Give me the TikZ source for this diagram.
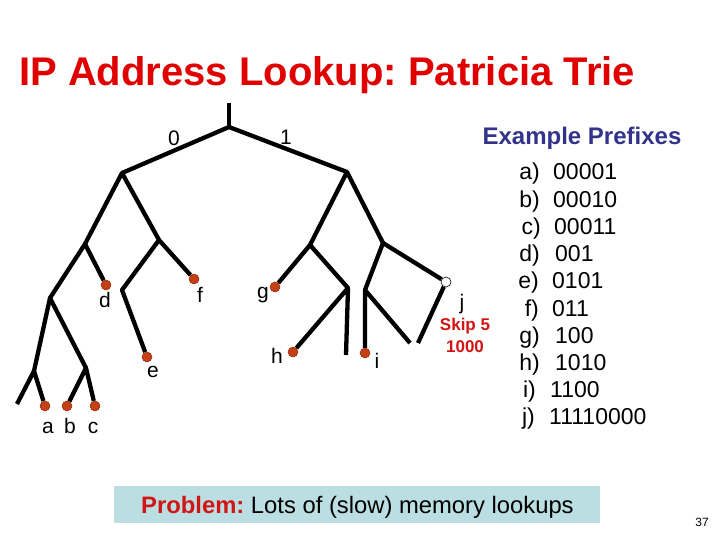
\documentclass[tikz,border=0pt]{standalone}
\usepackage{fontspec}
\setmainfont{Liberation Sans}
\frenchspacing
\definecolor{titlered}{RGB}{224,0,0}
\definecolor{dotred}{RGB}{198,64,22}
\definecolor{prefblue}{RGB}{51,51,140}
\definecolor{boxblue}{RGB}{186,222,226}
\definecolor{skipred}{RGB}{210,20,20}
\begin{document}
\begin{tikzpicture}[x=1pt,y=-1pt,
  edge/.style={line width=4.3pt, line join=round},
  dot/.style={circle, fill=dotred, draw=dotred!70!black, line width=0.5pt, inner sep=0pt, minimum size=10pt},
  opendot/.style={circle, fill=white, draw=black, line width=0.6pt, inner sep=0pt, minimum size=10pt},
  lbl/.style={inner sep=0pt, anchor=base, font=\fontsize{21}{24}\selectfont},
  bitlbl/.style={inner sep=0pt, anchor=base, font=\fontsize{21}{24}\selectfont},
  pkey/.style={inner sep=0pt, anchor=base east, font=\fontsize{23}{26}\selectfont},
  pval/.style={inner sep=0pt, anchor=base west, font=\fontsize{23}{26}\selectfont}]
\useasboundingbox (0,0) rectangle (720,540);

% title
\node[inner sep=0pt, anchor=base west, text=titlered, font=\fontsize{40}{44}\selectfont\bfseries] (title) at (19,86) {IP Address Lookup: Patricia Trie};

% trie junctions
\coordinate (top) at (229,103);
\coordinate (r) at (229,127);
\coordinate (n0) at (122,173);
\coordinate (n1) at (347,172);
\coordinate (n00) at (85,244);
\coordinate (n01) at (159,240);
\coordinate (n000) at (50,298);
\coordinate (n0000) at (34,371);
\coordinate (n0001) at (86,368);
\coordinate (n010) at (122,290);
\coordinate (n10) at (310,245);
\coordinate (n11) at (383,243);
\coordinate (n101) at (348,288);
\coordinate (n110) at (365,290);
\coordinate (end1) at (17,404);
\coordinate (end2) at (346,355);
\coordinate (end3) at (410,343);
\coordinate (end4) at (418,343);

% leaves
\node[dot] (a) at (45,406) {};
\node[dot] (b) at (67,406) {};
\node[dot] (c) at (95,406) {};
\node[dot] (d) at (106,285) {};
\node[dot] (e) at (147,357) {};
\node[dot] (f) at (194,279) {};
\node[dot] (g) at (275,287) {};
\node[dot] (h) at (293,352) {};
\node[dot] (i) at (365,353) {};
\node[opendot] (j) at (446,282) {};

% edges
\draw[edge] (top) -- (r);
\draw[edge] (n0) -- (r) -- (n1);
\draw[edge] (n00) -- (n0) -- (n01);
\draw[edge] (n000) -- (n00) -- (d);
\draw[edge] (n0000) -- (n000) -- (n0001);
\draw[edge] (end1) -- (n0000) -- (a);
\draw[edge] (b) -- (n0001) -- (c);
\draw[edge] (e) -- (n010) -- (n01) -- (f);
\draw[edge] (n10) -- (n1) -- (n11);
\draw[edge] (g) -- (n10) -- (n101);
\draw[edge] (h) -- (n101) -- (end2);
\draw[edge] (n110) -- (n11) -- (j);
\draw[edge] (i) -- (n110) -- (end3);
\draw[edge] (j) -- (end4);

% bit labels
\node[bitlbl] (l0) at (174,146) {0};
\node[bitlbl] (l1) at (286,145) {1};

% leaf labels
\node[lbl] (la) at (48,433) {a};
\node[lbl] (lb) at (70,433) {b};
\node[lbl] (lc) at (93,433) {c};
\node[lbl] (ld) at (105,307) {d};
\node[lbl] (le) at (153,377) {e};
\node[lbl] (lf) at (200,302) {f};
\node[lbl] (lg) at (263,298) {g};
\node[lbl] (lh) at (277,363) {h};
\node[lbl] (li) at (377,368) {i};
\node[lbl] (lj) at (462,309) {j};
\node[inner sep=0pt, anchor=base, text=skipred, font=\fontsize{17}{20}\selectfont\bfseries] (skip) at (465,330) {Skip 5};
\node[inner sep=0pt, anchor=base, text=skipred, font=\fontsize{17}{20}\selectfont\bfseries] (skipv) at (465,352) {1000};

% prefixes
\node[inner sep=0pt, anchor=base, text=prefblue, font=\fontsize{24}{28}\selectfont\bfseries] (ptitle) at (582,145) {Example Prefixes};
\node[pkey] (ka) at (540,180) {a)};   \node[pval] (va) at (553,180) {00001};
\node[pkey] (kb) at (540,207.2) {b)}; \node[pval] (vb) at (553,207.2) {00010};
\node[pkey] (kc) at (541,234.4) {c)}; \node[pval] (vc) at (554,234.4) {00011};
\node[pkey] (kd) at (540,261.6) {d)}; \node[pval] (vd) at (555,261.6) {001};
\node[pkey] (ke) at (539,288.8) {e)}; \node[pval] (ve) at (552,288.8) {0101};
\node[pkey] (kf) at (539,316) {f)};   \node[pval] (vf) at (552,316) {011};
\node[pkey] (kg) at (540,343.2) {g)}; \node[pval] (vg) at (555,343.2) {100};
\node[pkey] (kh) at (540,370.4) {h)}; \node[pval] (vh) at (555,370.4) {1010};
\node[pkey] (ki) at (536,397.6) {i)}; \node[pval] (vi) at (550,397.6) {1100};
\node[pkey] (kj) at (535,424.8) {j)}; \node[pval] (vj) at (549,424.8) {11110000};

% problem box
\fill[boxblue] (114,486) rectangle (600,523);
\node[inner sep=0pt, anchor=base west, font=\fontsize{23.8}{27}\selectfont] (prob) at (141,513) {\textcolor{skipred}{\bfseries Problem:} Lots of (slow) memory lookups};

% page number
\node[inner sep=0pt, anchor=base, font=\fontsize{12}{14}\selectfont] (pg) at (702,526) {37};
\end{tikzpicture}
\end{document}
